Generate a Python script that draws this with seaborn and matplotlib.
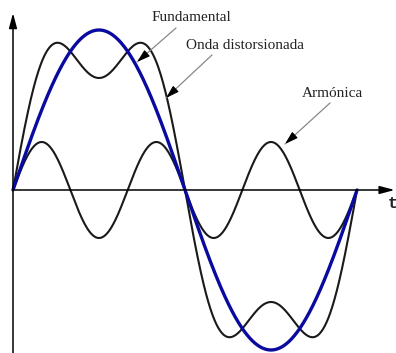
import numpy as np
import pandas as pd
import matplotlib
matplotlib.use("Agg")
import matplotlib.pyplot as plt
import seaborn as sns

# Wave components: fundamental plus its third harmonic
fund_amp = 1.0
harm_order = 3
harm_amp = 0.3

labels = ["Fundamental", "Onda distorsionada", "Armónica"]
axis_label = "t"

t = np.linspace(0, 2 * np.pi, 600)
fundamental = fund_amp * np.sin(t)
harmonic = harm_amp * np.sin(harm_order * t)
distorted = fundamental + harmonic

df = pd.DataFrame({"t": t, "fund": fundamental, "harm": harmonic, "dist": distorted})

sns.set_theme(style="white")
plt.rcParams["font.family"] = ["Liberation Serif", "DejaVu Serif"]

fig = plt.figure(figsize=(3.96, 3.53), dpi=100)
ax = fig.add_axes([0, 0, 1, 1])
ax.set_xlim(-0.2374, 6.995)
ax.set_ylim(-1.0188, 1.1875)
ax.axis("off")

# Coordinate axes with arrowheads
ax.annotate("", xy=(0, 1.106), xytext=(0, -1.02),
            arrowprops=dict(arrowstyle="-|>,head_length=0.75,head_width=0.2",
                            color="black", lw=1.1, shrinkA=0, shrinkB=0))
ax.annotate("", xy=(6.97, 0), xytext=(0, 0),
            arrowprops=dict(arrowstyle="-|>,head_length=0.75,head_width=0.2",
                            color="black", lw=1.1, shrinkA=0, shrinkB=0))
ax.text(6.93, -0.085, axis_label, family="Liberation Mono", fontsize=12,
        fontweight="bold", ha="center", va="center", color="#222222")

sns.lineplot(data=df, x="t", y="harm", ax=ax, color="#1a1a1a", lw=1.5, sort=False)
sns.lineplot(data=df, x="t", y="dist", ax=ax, color="#1a1a1a", lw=1.5, sort=False)
sns.lineplot(data=df, x="t", y="fund", ax=ax, color="#0a0aa0", lw=2.4, sort=False)

# Callouts
callouts = [
    (labels[0], (3.25, 1.075), (2.977, 1.0125), (2.265, 0.80)),
    (labels[1], (4.237, 0.906), (3.635, 0.844), (2.795, 0.575)),
    (labels[2], (5.826, 0.60), (5.79, 0.544), (4.968, 0.2875)),
]
for text, tpos, tail, head in callouts:
    ax.text(*tpos, text, fontsize=11, ha="center", va="center", color="#222222")
    ax.annotate("", xy=head, xytext=tail,
                arrowprops=dict(arrowstyle="-", color="#888888", lw=0.9,
                                shrinkA=0, shrinkB=0))
    ax.annotate("", xy=head, xytext=(head[0] + (tail[0] - head[0]) * 0.15,
                                     head[1] + (tail[1] - head[1]) * 0.15),
                arrowprops=dict(arrowstyle="-|>,head_length=0.65,head_width=0.2",
                                color="black", lw=0.9, shrinkA=0, shrinkB=0))

fig.savefig("out.png", dpi=100, facecolor="white")
